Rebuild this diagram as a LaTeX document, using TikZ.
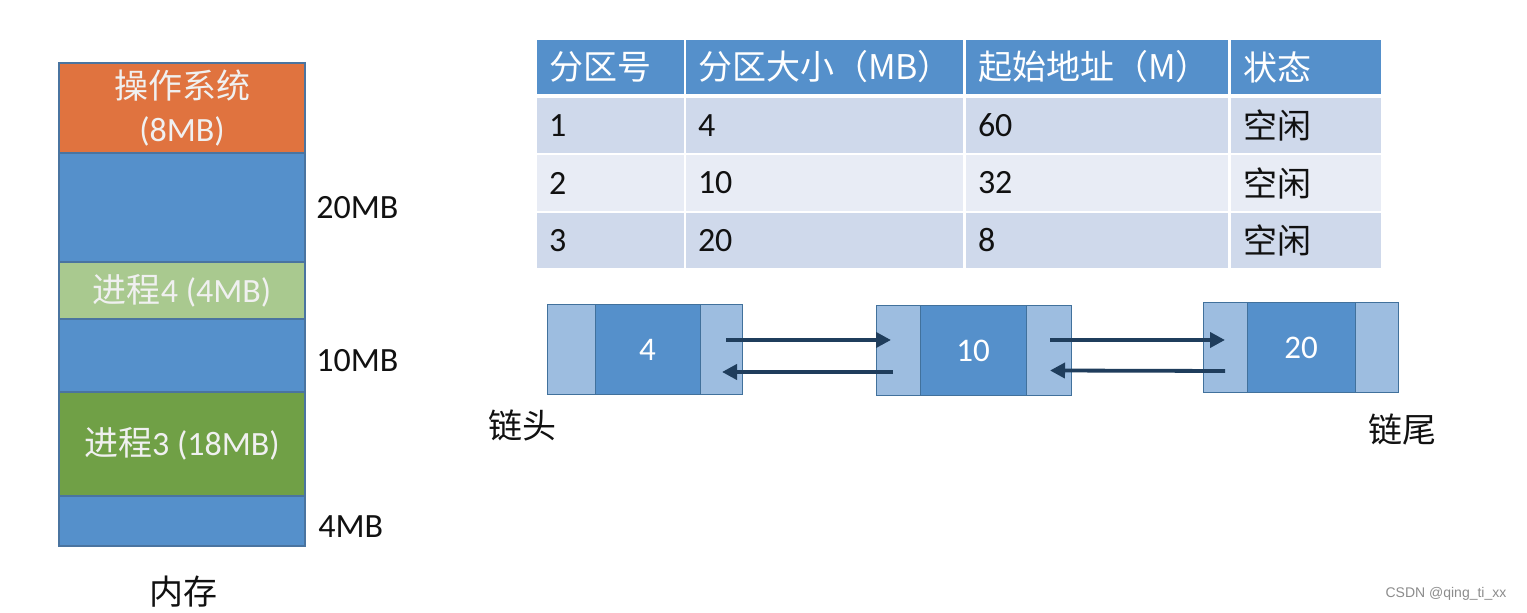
\documentclass[tikz,border=0pt]{standalone}
\usepackage{fontspec}
\setmainfont{Carlito}
\newfontfamily\cjk{Noto Sans CJK SC}
\newfontfamily\wmfont{Liberation Sans}
\usetikzlibrary{arrows.meta,calc}
\definecolor{osorange}{HTML}{E0733F}
\definecolor{memblue}{HTML}{5590CB}
\definecolor{lgreen}{HTML}{A9C98F}
\definecolor{dgreen}{HTML}{70A046}
\definecolor{memline}{HTML}{4A74A0}
\definecolor{hdrblue}{HTML}{5590CB}
\definecolor{rowodd}{HTML}{CFD9EB}
\definecolor{roweven}{HTML}{E8ECF5}
\definecolor{nlight}{HTML}{9DBDE0}
\definecolor{ndark}{HTML}{5590CB}
\definecolor{nline}{HTML}{41719C}
\definecolor{arrcol}{HTML}{1F3D5C}
\definecolor{txt}{HTML}{111111}
\tikzset{
  mem/.style={draw=memline, line width=0.6pt, minimum width=123pt, inner sep=0pt,
    text=white!94!black, align=center, font=\fontsize{17}{21.5}\selectfont},
  side/.style={font=\fontsize{17}{20}\selectfont, text=txt, inner sep=0pt},
  cell/.style={inner xsep=6pt, inner ysep=0pt, align=left, text=txt,
    font=\fontsize{17}{20}\selectfont},
  c1/.style={minimum width=73.5pt, text width=61.5pt},
  c2/.style={minimum width=138.5pt, text width=126.5pt},
  c3/.style={minimum width=131pt, text width=119pt},
  c4/.style={minimum width=75pt, text width=63pt},
  hdr/.style={fill=hdrblue, minimum height=27pt, text=white},
  rowa/.style={fill=rowodd, minimum height=27.5pt},
  rowb/.style={fill=roweven, minimum height=28pt},
  lnode/.style={draw=nline, line width=0.5pt, inner sep=0pt, minimum height=45pt},
  lside/.style={lnode, fill=nlight},
  lmid/.style={lnode, fill=ndark, text=white, font=\fontsize{16.5}{19}\selectfont},
  arr/.style={draw=arrcol, line width=1.9pt, -{Triangle[length=7.5pt,width=7.5pt]}},
}
\begin{document}
\begin{tikzpicture}[x=0.5pt,y=-0.5pt]
\useasboundingbox (0,0) rectangle (1527,613);
\fill[white] (0,0) rectangle (1527,613);

% memory column
\node[mem, fill=osorange, minimum height=45pt] (os) at (182,108) {{\cjk 操作系统}\\(8MB)};
\node[mem, fill=memblue, minimum height=54.5pt] (f1) at (182,207.5) {};
\node[mem, fill=lgreen, minimum height=28.5pt] (p4) at (182,290.5) {{\cjk 进程}4 (4MB)};
\node[mem, fill=memblue, minimum height=36.5pt] (f2) at (182,355.5) {};
\node[mem, fill=dgreen, minimum height=52pt] (p3) at (182,444) {{\cjk 进程}3 (18MB)};
\node[mem, fill=memblue, minimum height=25pt] (f3) at (182,521) {};

\node[side, anchor=west] (l20) at (316,208) {20MB};
\node[side, anchor=west] (l10) at (316,361) {10MB};
\node[side, anchor=west] (l4) at (318,527) {4MB};
\node[side] (mem) at (183,592) {\cjk 内存};

% table
\node[cell, c1, hdr] (h1) at (610.5,67) {\cjk 分区号};
\node[cell, c2, hdr] (h2) at (824.5,67) {\cjk 分区大小（MB）};
\node[cell, c3, hdr] (h3) at (1097,67) {\cjk 起始地址（M）};
\node[cell, c4, hdr] (h4) at (1306,67) {\cjk 状态};

\node[cell, c1, rowa] (a1) at (610.5,125.5) {1};
\node[cell, c2, rowa] (a2) at (824.5,125.5) {4};
\node[cell, c3, rowa] (a3) at (1097,125.5) {60};
\node[cell, c4, rowa] (a4) at (1306,125.5) {\cjk 空闲};

\node[cell, c1, rowb] (b1) at (610.5,183) {2};
\node[cell, c2, rowb] (b2) at (824.5,183) {10};
\node[cell, c3, rowb] (b3) at (1097,183) {32};
\node[cell, c4, rowb] (b4) at (1306,183) {\cjk 空闲};

\node[cell, c1, rowa] (d1) at (610.5,240.5) {3};
\node[cell, c2, rowa] (d2) at (824.5,240.5) {20};
\node[cell, c3, rowa] (d3) at (1097,240.5) {8};
\node[cell, c4, rowa] (d4) at (1306,240.5) {\cjk 空闲};

% linked list
\node[lside, minimum width=24pt] (n1l) at (571,350) {};
\node[lmid, minimum width=52.5pt] (n1m) at (647.5,350) {4};
\node[lside, minimum width=21pt] (n1r) at (721,350) {};

\node[lside, minimum width=22pt] (n2l) at (898,350.5) {};
\node[lmid, minimum width=53pt] (n2m) at (973,350.5) {10};
\node[lside, minimum width=22.5pt] (n2r) at (1048.5,350.5) {};

\node[lside, minimum width=22pt] (n3l) at (1225,348) {};
\node[lmid, minimum width=54pt] (n3m) at (1301,348) {20};
\node[lside, minimum width=21.5pt] (n3r) at (1376.5,348) {};

\draw[arr] ($(n1r.center)+(5,-10)$) -- ($(n2l.center)+(-7,-10.5)$);
\draw[arr] ($(n2l.center)+(-5,21.5)$) -- ($(n1r.center)+(1,22)$);
\draw[arr] ($(n2r.center)+(1.5,-10.5)$) -- ($(n3l.center)+(0,-8)$);
\draw[arr] ($(n3l.center)+(0,23)$) -- ($(n2r.center)+(1.5,20)$);

\node[side] (head) at (522,425) {\cjk 链头};
\node[side] (tail) at (1402,430) {\cjk 链尾};

\node[font=\wmfont\fontsize{7}{8}\selectfont, text=black!45, inner sep=0pt] (wm) at (1446,594) {CSDN @qing\_ti\_xx};
\end{tikzpicture}
\end{document}
